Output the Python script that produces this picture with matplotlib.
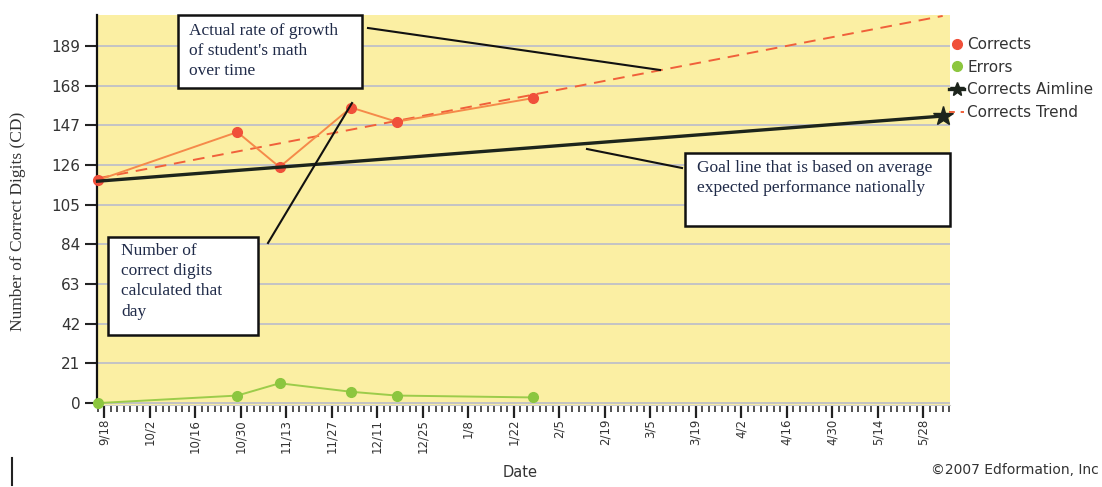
import datetime as dt
import numpy as np
import matplotlib
matplotlib.use('Agg')
import matplotlib.pyplot as plt
import matplotlib.dates as mdates
from matplotlib.patches import Rectangle
from matplotlib.lines import Line2D

# data
probe_dates = ['2006-09-16', '2006-10-29', '2006-11-11', '2006-12-03', '2006-12-17', '2007-01-28']
corrects = [118, 143.5, 125, 156.5, 149, 161.5]
errors = [0, 4, 10.5, 6, 4, 3]

aim_dates = ['2006-09-16', '2007-06-03']
aim_values = [117.5, 152]

trend_dates = ['2006-09-16', '2007-06-03']
trend_values = [119, 205]

tick_dates = ['2006-09-18', '2006-10-02', '2006-10-16', '2006-10-30', '2006-11-13',
              '2006-11-27', '2006-12-11', '2006-12-25', '2007-01-08', '2007-01-22',
              '2007-02-05', '2007-02-19', '2007-03-05', '2007-03-19', '2007-04-02',
              '2007-04-16', '2007-04-30', '2007-05-14', '2007-05-28']
y_ticks = [0, 21, 42, 63, 84, 105, 126, 147, 168, 189]

def d(s):
    return dt.datetime.strptime(s, '%Y-%m-%d')

W, H = 1102, 487
def fx(px):
    return px / W
def fy(py):
    return 1 - py / H

fig = plt.figure(figsize=(W / 100, H / 100), dpi=100)
ax = fig.add_axes([fx(97), fy(405), (950 - 97) / W, (405 - 15) / H])
ax.set_facecolor('#fbefa3')

x_pts = [d(s) for s in probe_dates]
ax.plot(x_pts, corrects, color='#f58a4a', lw=1.4, marker='o', ms=7,
        mfc='#f0503a', mec='#f0503a', zorder=4, clip_on=False)
ax.plot(x_pts, errors, color='#9ccc4a', lw=1.4, marker='o', ms=7,
        mfc='#8cc63f', mec='#8cc63f', zorder=4, clip_on=False)
ax.plot([d(s) for s in aim_dates], aim_values, color='#1c241c', lw=2.4,
        marker='*', ms=15, markevery=[1], zorder=5, clip_on=False)
ax.plot([d(s) for s in trend_dates], trend_values, color='#f0603a', lw=1.4,
        dashes=(6, 4), zorder=3)

ax.set_xlim(d('2006-09-15') + dt.timedelta(hours=20), d('2007-06-05') + dt.timedelta(hours=6))
ax.set_ylim(-1, 205.5)

ax.set_yticks(y_ticks)
ax.set_yticklabels([str(v) for v in y_ticks], fontsize=11, color='#333333')
ax.yaxis.grid(True, color='#b9bccb', lw=1.2)
ax.set_axisbelow(True)

ax.set_xticks([mdates.date2num(d(s)) for s in tick_dates])
ax.set_xticklabels(['%d/%d' % (d(s).month, d(s).day) for s in tick_dates],
                   rotation=90, fontsize=8.5, color='#333333')
ax.xaxis.set_minor_locator(mdates.DayLocator(interval=2))
ax.tick_params(axis='x', which='major', length=9, width=1.6, color='#222222', pad=1)
ax.tick_params(axis='x', which='minor', length=5, width=1.3, color='#444444')
ax.tick_params(axis='y', which='major', length=9, width=1.5, color='#222222', pad=3)

for s in ['top', 'right']:
    ax.spines[s].set_visible(False)
ax.spines['left'].set_linewidth(1.6)
ax.spines['left'].set_color('#111111')
ax.spines['bottom'].set_color('#cccccc')
ax.spines['bottom'].set_linewidth(0.8)

ax.set_xlabel('Date', fontsize=10.5, color='#333333')
ax.xaxis.set_label_coords((520 - 97) / (950 - 97), -(465 - 405) / (405 - 15))
ax.set_ylabel('Number of Correct Digits (CD)', family='Liberation Serif',
              fontsize=12.5, color='#333333')
ax.yaxis.set_label_coords(-(97 - 26) / (950 - 97), 0.47)

# legend outside on the right
handles = [
    Line2D([], [], ls='none', marker='o', ms=7, color='#f0503a'),
    Line2D([], [], ls='none', marker='o', ms=7, color='#8cc63f'),
    Line2D([], [], color='#1c241c', lw=2.4, marker='*', ms=10, markevery=[1]),
    Line2D([], [], color='#f0603a', lw=1.4, dashes=(3, 3)),
]
fig.legend(handles, ['Corrects', 'Errors', 'Corrects Aimline', 'Corrects Trend'],
           loc='upper left', bbox_to_anchor=(fx(949), fy(37)), frameon=False,
           fontsize=11, handlelength=1.0, handletextpad=0.2, labelspacing=0.5,
           borderaxespad=0, borderpad=0, labelcolor='#333333')

# callout boxes
def callout(x0, y0, x1, y1, text, tx, ty):
    fig.add_artist(Rectangle((fx(x0), fy(y1)), (x1 - x0) / W, (y1 - y0) / H,
                             transform=fig.transFigure, facecolor='white',
                             edgecolor='#111111', lw=1.8, zorder=10))
    fig.text(fx(tx), fy(ty), text, family='Liberation Serif', fontsize=12.5,
             color='#1f2a48', va='top', ha='left', linespacing=1.35, zorder=11)

def leader(x0, y0, x1, y1):
    fig.add_artist(Line2D([fx(x0), fx(x1)], [fy(y0), fy(y1)],
                          transform=fig.transFigure, color='#111111', lw=1.5, zorder=9))

callout(178, 15, 362, 88, "Actual rate of growth\nof student's math\nover time", 189, 23)
callout(108, 237, 258, 335, "Number of\ncorrect digits\ncalculated that\nday", 121, 243)
callout(685, 153, 950, 226, "Goal line that is based on average\nexpected performance nationally", 697, 160)
leader(368, 28, 660, 70)
leader(268, 243, 352, 103)
leader(587, 149, 682, 168)

fig.text(fx(1099), fy(470), '\u00a92007 Edformation, Inc', fontsize=10, color='#333333',
         va='center', ha='right')
fig.add_artist(Line2D([fx(12), fx(12)], [fy(458), fy(485)], transform=fig.transFigure,
                      color='#222222', lw=1.5))

plt.savefig('out.png', dpi=100)
plt.close()
